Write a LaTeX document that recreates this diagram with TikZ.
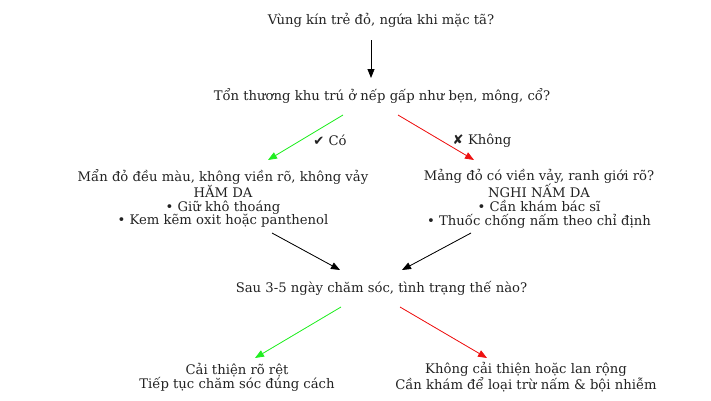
\documentclass[tikz,border=0pt]{standalone}
\usepackage{fontspec}
\setmainfont{DejaVu Serif}
\newfontfamily\symfont{DejaVu Sans}
\usetikzlibrary{arrows.meta,calc}
\definecolor{txt}{HTML}{222222}
\definecolor{gr}{HTML}{22EE22}
\definecolor{rd}{HTML}{EE1111}
\tikzset{
  lbl/.style={inner sep=0pt, align=center, text=txt, font=\fontsize{13.2}{13.7}\selectfont},
  arr/.style={-{Triangle[length=9pt,width=7pt]}, line width=0.8pt},
  garr/.style={arr, draw=gr, fill=gr},
  rarr/.style={arr, draw=rd, fill=rd},
  karr/.style={arr, draw=black, fill=black},
}
\begin{document}
\begin{tikzpicture}[x=1pt,y=-1pt]
\useasboundingbox (0,0) rectangle (711,400);
\node[lbl] (T) at (381,20) {Vùng kín trẻ đỏ, ngứa khi mặc tã?};
\node[lbl] (Q2) at (382,96) {Tổn thương khu trú ở nếp gấp như bẹn, mông, cổ?};
\node[lbl] (L) at (223,198.5) {Mẩn đỏ đều màu, không viền rõ, không vảy\\HĂM DA\\• Giữ khô thoáng\\• Kem kẽm oxit hoặc panthenol};
\node[lbl] (R) at (539,198.5) {Mảng đỏ có viền vảy, ranh giới rõ?\\NGHI NẤM DA\\• Cần khám bác sĩ\\• Thuốc chống nấm theo chỉ định};
\node[lbl] (S) at (381.5,288) {Sau 3-5 ngày chăm sóc, tình trạng thế nào?};
\node[lbl] (BL) at (237,377) {Cải thiện rõ rệt\\Tiếp tục chăm sóc đúng cách};
\node[lbl] (BR) at (526,377) {Không cải thiện hoặc lan rộng\\Cần khám để loại trừ nấm \& bội nhiễm};
\draw[karr] ($(T)+(-10,20)$) -- ($(Q2)+(-11,-18)$);
\draw[garr] ($(Q2)+(-39,19)$) -- node[lbl, pos=0.5, xshift=24.5pt, yshift=-2.5pt] (yes) {{\symfont ✔} Có} ($(L)+(45,-38.5)$);
\draw[rarr] ($(Q2)+(16,19)$) -- node[lbl, pos=0.5, xshift=46pt, yshift=-3.5pt] (no) {{\symfont ✘} Không} ($(R)+(-65,-38.5)$);
\draw[karr] ($(L)+(49,34.5)$) -- ($(S)+(-41.5,-18)$);
\draw[karr] ($(R)+(-68,34.5)$) -- ($(S)+(20.5,-18)$);
\draw[garr] ($(S)+(-40.5,19)$) -- ($(BL)+(18,-19)$);
\draw[rarr] ($(S)+(18.5,19)$) -- ($(BR)+(-39,-19)$);
\end{tikzpicture}
\end{document}
